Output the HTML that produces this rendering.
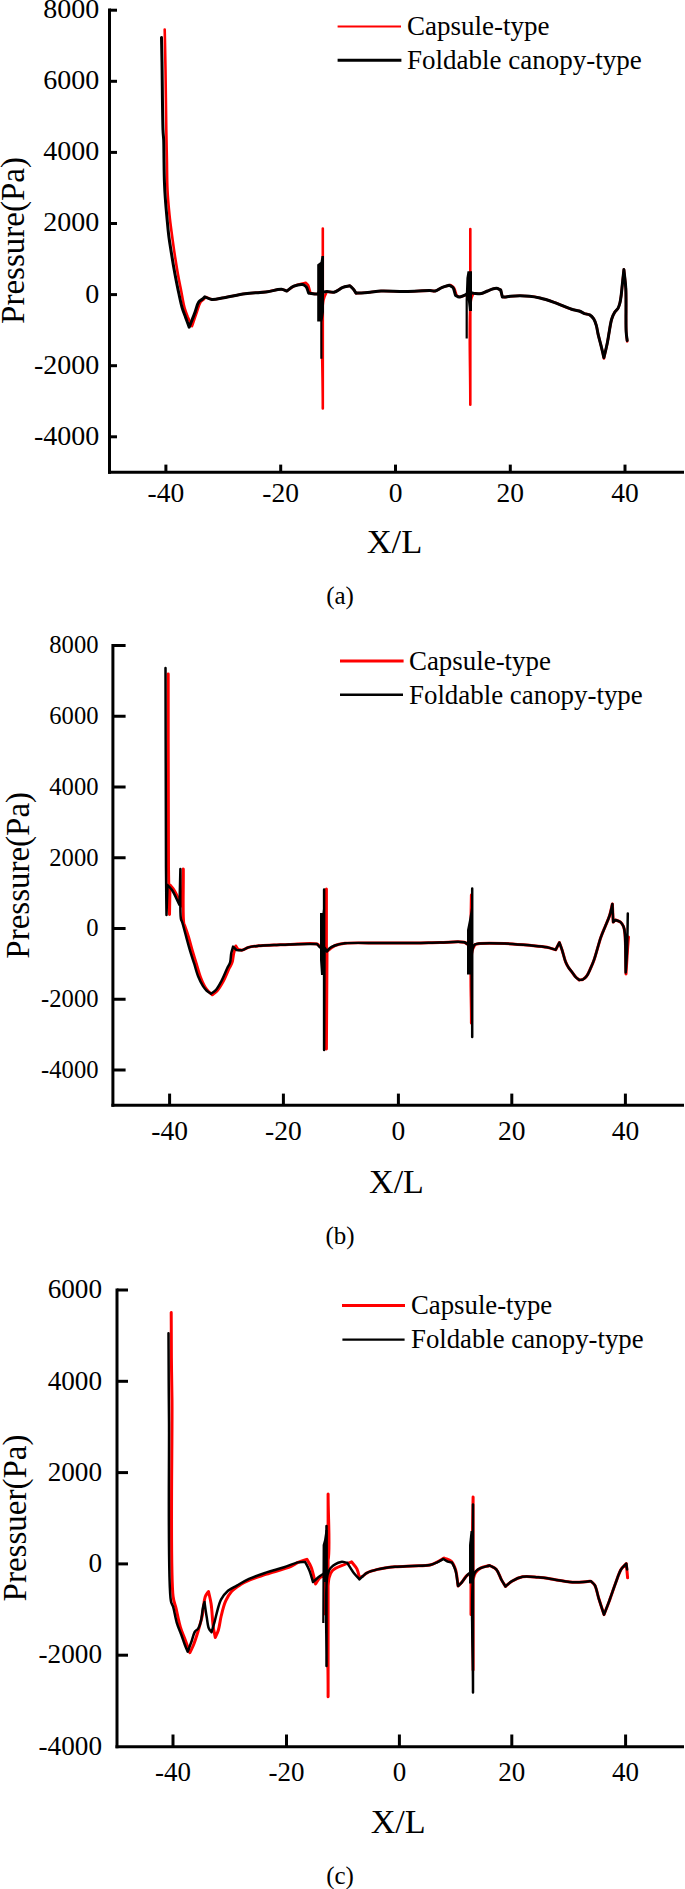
<!DOCTYPE html>
<html><head><meta charset="utf-8"><style>
html,body{margin:0;padding:0;background:#fff;}
body{width:685px;height:1889px;overflow:hidden;}
svg{display:block;font-family:"Liberation Serif", serif;fill:#000;}
</style></head><body>
<svg width="685" height="1889" viewBox="0 0 685 1889">
<line x1="109.5" y1="8.5" x2="109.5" y2="473.8" stroke="#000" stroke-width="3"/>
<line x1="108.0" y1="472.3" x2="684" y2="472.3" stroke="#000" stroke-width="3"/>
<line x1="109.5" y1="10.2" x2="117" y2="10.2" stroke="#000" stroke-width="3"/>
<line x1="109.5" y1="81.3" x2="117" y2="81.3" stroke="#000" stroke-width="3"/>
<line x1="109.5" y1="152.39999999999998" x2="117" y2="152.39999999999998" stroke="#000" stroke-width="3"/>
<line x1="109.5" y1="223.49999999999997" x2="117" y2="223.49999999999997" stroke="#000" stroke-width="3"/>
<line x1="109.5" y1="294.59999999999997" x2="117" y2="294.59999999999997" stroke="#000" stroke-width="3"/>
<line x1="109.5" y1="365.7" x2="117" y2="365.7" stroke="#000" stroke-width="3"/>
<line x1="109.5" y1="436.79999999999995" x2="117" y2="436.79999999999995" stroke="#000" stroke-width="3"/>
<line x1="165.9" y1="464.6" x2="165.9" y2="472.3" stroke="#000" stroke-width="3"/>
<line x1="280.7" y1="464.6" x2="280.7" y2="472.3" stroke="#000" stroke-width="3"/>
<line x1="395.5" y1="464.6" x2="395.5" y2="472.3" stroke="#000" stroke-width="3"/>
<line x1="510.3" y1="464.6" x2="510.3" y2="472.3" stroke="#000" stroke-width="3"/>
<line x1="625.0" y1="464.6" x2="625.0" y2="472.3" stroke="#000" stroke-width="3"/>
<text x="99.3" y="18.1" font-size="28" text-anchor="end" >8000</text>
<text x="99.3" y="89.2" font-size="28" text-anchor="end" >6000</text>
<text x="99.3" y="160.29999999999998" font-size="28" text-anchor="end" >4000</text>
<text x="99.3" y="231.39999999999998" font-size="28" text-anchor="end" >2000</text>
<text x="99.3" y="302.49999999999994" font-size="28" text-anchor="end" >0</text>
<text x="99.3" y="373.59999999999997" font-size="28" text-anchor="end" >-2000</text>
<text x="99.3" y="444.69999999999993" font-size="28" text-anchor="end" >-4000</text>
<text x="165.9" y="502" font-size="27.5" text-anchor="middle" >-40</text>
<text x="280.7" y="502" font-size="27.5" text-anchor="middle" >-20</text>
<text x="395.5" y="502" font-size="27.5" text-anchor="middle" >0</text>
<text x="510.3" y="502" font-size="27.5" text-anchor="middle" >20</text>
<text x="625.0" y="502" font-size="27.5" text-anchor="middle" >40</text>
<text x="394.5" y="552.5" font-size="34.5" text-anchor="middle" >X/L</text>
<text x="340" y="604" font-size="25" text-anchor="middle" >(a)</text>
<text transform="translate(24,240.5) rotate(-90)" font-size="33" text-anchor="middle">Pressure(Pa)</text>
<line x1="337.6" y1="26.4" x2="401" y2="26.4" stroke="#f00" stroke-width="2"/>
<line x1="337.6" y1="60.2" x2="401.4" y2="60.2" stroke="#000" stroke-width="3"/>
<text x="407" y="35" font-size="27" text-anchor="start" >Capsule-type</text>
<text x="407" y="68.6" font-size="27" text-anchor="start" >Foldable canopy-type</text>
<line x1="112.9" y1="644" x2="112.9" y2="1106.7" stroke="#000" stroke-width="3"/>
<line x1="111.4" y1="1105.2" x2="684" y2="1105.2" stroke="#000" stroke-width="3"/>
<line x1="112.9" y1="645.5" x2="125.6" y2="645.5" stroke="#000" stroke-width="3"/>
<line x1="112.9" y1="716.25" x2="125.6" y2="716.25" stroke="#000" stroke-width="3"/>
<line x1="112.9" y1="787.0" x2="125.6" y2="787.0" stroke="#000" stroke-width="3"/>
<line x1="112.9" y1="857.75" x2="125.6" y2="857.75" stroke="#000" stroke-width="3"/>
<line x1="112.9" y1="928.5" x2="125.6" y2="928.5" stroke="#000" stroke-width="3"/>
<line x1="112.9" y1="999.25" x2="125.6" y2="999.25" stroke="#000" stroke-width="3"/>
<line x1="112.9" y1="1070.0" x2="125.6" y2="1070.0" stroke="#000" stroke-width="3"/>
<line x1="169.6" y1="1093.6" x2="169.6" y2="1105.2" stroke="#000" stroke-width="3"/>
<line x1="283.4" y1="1093.6" x2="283.4" y2="1105.2" stroke="#000" stroke-width="3"/>
<line x1="398.4" y1="1093.6" x2="398.4" y2="1105.2" stroke="#000" stroke-width="3"/>
<line x1="511.8" y1="1093.6" x2="511.8" y2="1105.2" stroke="#000" stroke-width="3"/>
<line x1="625.4" y1="1093.6" x2="625.4" y2="1105.2" stroke="#000" stroke-width="3"/>
<text x="98.5" y="653.4" font-size="24.6" text-anchor="end" >8000</text>
<text x="98.5" y="724.15" font-size="24.6" text-anchor="end" >6000</text>
<text x="98.5" y="794.9" font-size="24.6" text-anchor="end" >4000</text>
<text x="98.5" y="865.65" font-size="24.6" text-anchor="end" >2000</text>
<text x="98.5" y="936.4" font-size="24.6" text-anchor="end" >0</text>
<text x="98.5" y="1007.15" font-size="24.6" text-anchor="end" >-2000</text>
<text x="98.5" y="1077.9" font-size="24.6" text-anchor="end" >-4000</text>
<text x="169.6" y="1139.5" font-size="27.5" text-anchor="middle" >-40</text>
<text x="283.4" y="1139.5" font-size="27.5" text-anchor="middle" >-20</text>
<text x="398.4" y="1139.5" font-size="27.5" text-anchor="middle" >0</text>
<text x="511.8" y="1139.5" font-size="27.5" text-anchor="middle" >20</text>
<text x="625.4" y="1139.5" font-size="27.5" text-anchor="middle" >40</text>
<text x="396.5" y="1193" font-size="34" text-anchor="middle" >X/L</text>
<text x="340" y="1244" font-size="25" text-anchor="middle" >(b)</text>
<text transform="translate(29.4,875.3) rotate(-90)" font-size="33" text-anchor="middle">Pressure(Pa)</text>
<line x1="340" y1="661.1" x2="403.6" y2="661.1" stroke="#f00" stroke-width="3"/>
<line x1="340" y1="694.8" x2="403" y2="694.8" stroke="#000" stroke-width="2.4"/>
<text x="409" y="669.6" font-size="26.9" text-anchor="start" >Capsule-type</text>
<text x="409" y="703.6" font-size="26.9" text-anchor="start" >Foldable canopy-type</text>
<line x1="117" y1="1288.5" x2="117" y2="1748.2" stroke="#000" stroke-width="3"/>
<line x1="115.5" y1="1746.7" x2="684" y2="1746.7" stroke="#000" stroke-width="3"/>
<line x1="117" y1="1290.0" x2="128" y2="1290.0" stroke="#000" stroke-width="3"/>
<line x1="117" y1="1381.3" x2="128" y2="1381.3" stroke="#000" stroke-width="3"/>
<line x1="117" y1="1472.6" x2="128" y2="1472.6" stroke="#000" stroke-width="3"/>
<line x1="117" y1="1563.9" x2="128" y2="1563.9" stroke="#000" stroke-width="3"/>
<line x1="117" y1="1655.2" x2="128" y2="1655.2" stroke="#000" stroke-width="3"/>
<line x1="173" y1="1734.5" x2="173" y2="1746.7" stroke="#000" stroke-width="3"/>
<line x1="286.5" y1="1734.5" x2="286.5" y2="1746.7" stroke="#000" stroke-width="3"/>
<line x1="399.4" y1="1734.5" x2="399.4" y2="1746.7" stroke="#000" stroke-width="3"/>
<line x1="511.8" y1="1734.5" x2="511.8" y2="1746.7" stroke="#000" stroke-width="3"/>
<line x1="625.6" y1="1734.5" x2="625.6" y2="1746.7" stroke="#000" stroke-width="3"/>
<text x="102" y="1298.2" font-size="27.2" text-anchor="end" >6000</text>
<text x="102" y="1389.5" font-size="27.2" text-anchor="end" >4000</text>
<text x="102" y="1480.8" font-size="27.2" text-anchor="end" >2000</text>
<text x="102" y="1572.1000000000001" font-size="27.2" text-anchor="end" >0</text>
<text x="102" y="1663.4" font-size="27.2" text-anchor="end" >-2000</text>
<text x="102" y="1754.7" font-size="27.2" text-anchor="end" >-4000</text>
<text x="173" y="1780.5" font-size="27" text-anchor="middle" >-40</text>
<text x="286.5" y="1780.5" font-size="27" text-anchor="middle" >-20</text>
<text x="399.4" y="1780.5" font-size="27" text-anchor="middle" >0</text>
<text x="511.8" y="1780.5" font-size="27" text-anchor="middle" >20</text>
<text x="625.6" y="1780.5" font-size="27" text-anchor="middle" >40</text>
<text x="398.2" y="1833" font-size="34.2" text-anchor="middle" >X/L</text>
<text x="340" y="1884" font-size="25" text-anchor="middle" >(c)</text>
<text transform="translate(25.6,1518) rotate(-90)" font-size="33" text-anchor="middle">Pressuer(Pa)</text>
<line x1="342" y1="1305.4" x2="405" y2="1305.4" stroke="#f00" stroke-width="3"/>
<line x1="342.4" y1="1339.6" x2="404.6" y2="1339.6" stroke="#000" stroke-width="2.4"/>
<text x="411" y="1314" font-size="26.75" text-anchor="start" >Capsule-type</text>
<text x="411" y="1348" font-size="26.75" text-anchor="start" >Foldable canopy-type</text>
<path d="M164.7,29.5 C165.0,43.0 165.3,55.2 165.5,70.0 C165.8,88.0 166.0,113.4 166.3,130.0 C166.5,141.7 166.7,150.0 166.9,160.0 C167.1,170.0 167.0,180.5 167.5,190.0 C167.9,198.7 168.7,207.0 169.5,215.0 C170.2,222.3 171.2,229.2 172.1,236.0 C173.0,242.5 173.8,248.7 174.8,255.0 C175.8,261.3 176.8,267.9 177.9,274.0 C178.9,279.8 180.1,285.4 181.2,291.0 C182.3,296.6 183.2,302.9 184.5,307.6 C185.5,311.2 186.6,313.9 187.8,317.0 C189.1,320.1 190.6,323.1 192.0,326.2 C193.5,321.8 195.0,317.2 196.5,313.0 C197.9,309.1 199.0,304.3 200.7,301.9 C201.7,300.4 203.0,299.9 204.0,299.0 C204.8,298.3 205.3,297.7 206.0,297.0 C208.0,297.8 209.6,299.1 212.0,299.4 C215.3,299.8 219.5,298.4 224.0,297.7 C230.0,296.7 238.6,294.7 245.0,293.8 C250.4,293.0 255.9,292.8 260.0,292.4 C262.9,292.1 264.6,292.2 267.5,291.8 C271.5,291.3 278.0,288.9 281.5,289.2 C283.7,289.4 285.0,290.4 286.8,291.0 C289.1,289.4 291.0,287.5 293.8,286.2 C297.1,284.6 301.7,283.9 305.7,282.7 C306.5,283.5 307.3,283.9 308.0,285.0 C309.1,286.8 309.7,290.5 310.5,293.2 C312.3,293.5 314.3,293.9 316.0,294.0 C317.4,294.1 318.8,294.0 320.0,294.0 C321.0,294.0 321.9,294.0 322.8,294.0 C322.8,272.2 322.8,250.3 322.8,228.5 C322.8,288.5 322.8,348.5 322.8,408.5 C323.0,372.3 320.3,315.7 323.5,300.0 C324.4,295.4 325.8,294.3 327.0,291.5 C329.3,291.7 331.6,292.7 334.0,292.2 C336.9,291.6 340.0,288.5 342.9,287.4 C345.3,286.5 347.6,286.3 349.9,285.7 C351.1,286.9 352.4,287.9 353.4,289.2 C354.4,290.4 355.1,291.9 356.0,293.2 C360.7,292.9 365.6,292.6 370.0,292.2 C373.9,291.8 376.6,291.2 381.0,291.0 C387.5,290.7 397.3,291.6 405.5,291.5 C413.7,291.4 424.8,290.5 430.0,290.6 C432.4,290.6 433.5,291.4 435.3,291.0 C437.5,290.5 439.8,288.4 442.3,287.4 C444.9,286.4 447.8,285.8 450.5,285.0 C451.7,286.0 453.1,286.6 454.0,288.0 C455.2,289.8 455.7,292.9 456.5,295.3 C457.7,295.9 458.7,296.9 460.0,297.0 C461.5,297.1 463.3,295.6 465.0,295.3 C466.7,295.0 468.5,295.1 470.3,295.0 C470.3,273.0 470.3,251.0 470.3,229.0 C470.3,287.6 470.3,346.2 470.3,404.8 C470.5,369.9 468.4,314.1 471.0,300.0 C471.7,296.3 472.7,295.5 473.5,293.2 C476.1,293.3 479.0,294.0 481.4,293.6 C483.6,293.2 485.3,291.8 487.5,291.0 C490.1,290.0 493.9,288.2 496.3,288.3 C498.0,288.4 499.2,289.4 500.7,290.0 C501.3,292.3 501.8,294.7 502.4,297.0 C503.3,297.0 504.0,297.2 505.0,297.1 C506.5,297.0 508.0,296.4 510.3,296.2 C514.7,295.8 524.2,295.7 529.6,296.2 C533.6,296.5 536.3,297.1 540.0,298.0 C544.4,299.0 549.1,300.6 554.0,302.3 C559.6,304.3 566.9,307.8 571.6,309.3 C574.6,310.2 576.9,310.2 579.2,311.0 C581.2,311.7 582.7,312.9 584.5,313.6 C586.2,314.2 588.2,314.1 589.7,314.9 C591.3,315.8 592.6,317.2 593.7,318.8 C594.9,320.6 595.6,323.0 596.3,325.4 C597.1,328.2 597.5,331.4 598.2,334.6 C599.0,338.0 600.1,341.8 600.9,345.1 C601.6,347.9 602.3,350.6 602.8,353.0 C603.2,355.0 603.5,356.7 603.9,358.5 C605.1,353.2 606.4,347.4 607.4,342.5 C608.2,338.3 608.7,334.6 609.4,330.7 C610.1,326.7 610.7,322.1 611.8,318.8 C612.6,316.3 613.6,314.1 614.7,312.3 C615.7,310.7 617.1,309.8 618.0,308.3 C618.9,306.7 619.4,305.0 619.9,303.0 C620.5,300.7 620.8,298.1 621.2,295.2 C621.7,291.4 622.1,286.3 622.6,282.0 C623.0,277.8 623.5,273.7 623.9,269.6 C624.5,275.9 625.4,281.0 625.8,288.6 C626.4,300.1 625.7,322.8 626.2,332.0 C626.4,336.3 626.9,338.3 627.2,341.5" fill="none" stroke="#f00" stroke-width="2.6" stroke-linejoin="round" stroke-linecap="round"/>
<path d="M161.5,37.5 C161.7,45.7 161.8,51.8 162.0,62.0 C162.3,79.0 162.5,117.4 163.0,130.0 C163.2,134.8 163.5,136.1 163.7,140.0 C163.9,145.5 163.9,153.0 164.0,160.0 C164.1,167.6 164.2,176.9 164.5,183.8 C164.7,189.1 164.9,192.9 165.3,198.0 C165.7,203.9 166.3,210.7 166.9,217.0 C167.5,223.3 168.0,229.7 168.8,236.0 C169.6,242.3 170.7,248.6 171.7,255.0 C172.7,261.4 173.8,267.9 175.0,274.3 C176.2,280.7 177.5,287.4 178.8,293.3 C179.9,298.4 180.9,303.4 182.1,307.6 C183.1,311.1 184.3,313.9 185.5,317.1 C186.7,320.4 188.0,323.8 189.2,327.2 C191.1,322.3 193.3,316.9 195.0,312.4 C196.4,308.6 197.1,304.2 198.8,301.9 C199.9,300.4 201.5,299.9 202.6,299.0 C203.5,298.2 204.1,297.5 204.8,296.8 C207.1,297.7 209.1,299.1 211.8,299.4 C215.3,299.8 219.4,298.4 224.0,297.7 C230.1,296.7 238.6,294.7 245.0,293.8 C250.4,293.0 255.9,292.8 260.0,292.4 C262.9,292.1 264.6,292.2 267.5,291.8 C271.5,291.3 278.0,288.9 281.5,289.2 C283.7,289.4 285.0,290.4 286.8,291.0 C289.1,289.4 291.2,287.3 293.8,286.2 C296.5,285.1 300.4,284.1 302.6,284.5 C304.1,284.8 305.1,285.5 306.0,286.6 C307.3,288.1 307.8,291.0 308.7,293.2 C310.7,293.5 313.1,293.9 314.8,294.0 C316.0,294.1 316.9,294.0 318.0,294.0 C318.7,292.7 319.3,291.3 320.0,290.0 C321.0,290.7 321.9,291.7 323.0,292.0 C324.2,292.3 325.5,291.5 327.0,291.5 C329.0,291.5 331.6,292.7 334.0,292.2 C336.9,291.6 340.0,288.5 342.9,287.4 C345.3,286.5 347.6,286.3 349.9,285.7 C351.1,286.9 352.4,287.9 353.4,289.2 C354.4,290.4 355.1,291.9 356.0,293.2 C360.7,292.9 365.6,292.6 370.0,292.2 C373.9,291.8 376.6,291.2 381.0,291.0 C387.5,290.7 397.3,291.6 405.5,291.5 C413.7,291.4 424.8,290.5 430.0,290.6 C432.4,290.6 433.5,291.4 435.3,291.0 C437.5,290.5 439.9,288.4 442.3,287.4 C444.6,286.5 447.0,285.9 449.3,285.2 C450.5,285.9 451.9,286.2 452.9,287.4 C454.2,289.1 454.6,292.7 455.5,295.3 C456.7,295.9 457.7,296.9 459.0,297.0 C460.5,297.1 462.7,295.9 464.2,295.3 C465.3,294.9 466.0,294.4 467.0,294.0 C468.2,293.6 469.8,293.1 471.0,293.0 C471.9,292.9 472.4,293.1 473.5,293.2 C475.4,293.3 479.0,294.0 481.4,293.6 C483.6,293.2 485.3,291.8 487.5,291.0 C490.1,290.0 493.9,288.2 496.3,288.3 C498.0,288.4 499.2,289.4 500.7,290.0 C501.3,292.3 501.8,294.7 502.4,297.0 C503.3,297.0 504.0,297.2 505.0,297.1 C506.5,297.0 508.0,296.4 510.3,296.2 C514.7,295.8 524.2,295.7 529.6,296.2 C533.6,296.5 536.3,297.1 540.0,298.0 C544.4,299.0 549.1,300.6 554.0,302.3 C559.6,304.3 566.9,307.8 571.6,309.3 C574.6,310.2 576.9,310.2 579.2,311.0 C581.2,311.7 582.7,312.9 584.5,313.6 C586.2,314.2 588.2,314.1 589.7,314.9 C591.3,315.8 592.6,317.2 593.7,318.8 C594.9,320.6 595.6,323.0 596.3,325.4 C597.1,328.2 597.5,331.4 598.2,334.6 C599.0,338.0 600.1,341.8 600.9,345.1 C601.6,347.9 602.3,350.7 602.8,353.0 C603.2,354.7 603.5,356.1 603.9,357.6 C605.1,352.6 606.5,347.2 607.4,342.5 C608.2,338.3 608.7,334.6 609.4,330.7 C610.1,326.7 610.7,322.1 611.8,318.8 C612.6,316.3 613.6,314.1 614.7,312.3 C615.7,310.7 617.1,309.8 618.0,308.3 C618.9,306.7 619.4,305.0 619.9,303.0 C620.5,300.7 620.8,298.1 621.2,295.2 C621.7,291.4 622.1,286.3 622.6,282.0 C623.0,277.8 623.5,273.7 623.9,269.6 C624.5,275.9 625.4,281.0 625.8,288.6 C626.4,300.1 625.6,323.1 626.2,332.0 C626.4,335.9 626.9,337.7 627.2,340.5" fill="none" stroke="#000" stroke-width="3" stroke-linejoin="round" stroke-linecap="round"/>
<path d="M168.2,674.0 C168.3,738.7 168.0,825.5 168.5,868.0 C168.7,888.8 169.2,899.0 169.5,914.5 C169.7,904.7 169.8,894.8 170.0,885.0 C171.3,886.7 172.6,887.8 174.0,890.0 C176.4,893.7 179.3,900.7 182.0,906.0 C182.4,893.7 182.9,881.3 183.3,869.0 C183.5,887.2 182.5,917.1 183.8,923.5 C184.1,924.9 184.4,924.9 184.8,926.0 C185.7,928.4 187.3,933.1 188.5,937.0 C189.8,941.4 191.1,946.4 192.4,951.0 C193.7,955.4 195.1,959.7 196.4,964.0 C197.7,968.3 198.9,973.0 200.4,977.0 C201.8,980.6 203.4,984.4 205.0,987.0 C206.1,988.9 207.2,990.2 208.5,991.5 C209.7,992.7 211.0,993.7 212.3,994.8 C213.9,993.5 215.4,992.7 217.0,991.0 C219.2,988.6 221.4,984.7 223.4,981.1 C225.5,977.2 227.6,971.6 229.2,968.2 C230.3,965.9 231.4,964.6 232.1,962.4 C233.0,959.7 233.1,955.9 233.8,953.0 C234.4,950.5 235.1,948.3 235.8,946.0 C236.5,947.2 237.3,948.3 238.0,949.5 C239.5,949.7 240.9,950.3 242.4,950.1 C244.3,949.8 246.1,948.1 248.4,947.4 C251.3,946.5 254.9,946.2 258.7,945.8 C263.3,945.3 268.9,945.3 274.0,945.1 C279.0,944.9 283.2,944.6 289.0,944.4 C296.9,944.2 312.5,942.4 317.0,944.0 C318.7,944.6 318.9,945.9 320.0,946.5 C321.0,947.0 322.0,947.3 323.0,947.5 C324.1,947.7 325.3,947.5 326.4,947.5 C326.4,928.0 326.4,908.5 326.4,889.0 C326.4,942.3 326.4,995.7 326.4,1049.0 C326.6,1016.5 326.8,984.0 327.0,951.5 C327.8,950.8 328.3,950.3 329.3,949.5 C330.8,948.4 332.7,946.5 335.0,945.5 C337.8,944.3 340.6,943.8 345.0,943.3 C353.1,942.4 368.3,943.1 380.0,943.1 C391.7,943.0 404.5,943.1 415.2,943.0 C424.2,942.9 431.8,942.6 440.0,942.5 C448.1,942.4 459.7,941.1 464.2,942.3 C466.1,942.8 466.8,943.9 468.0,944.5 C468.9,944.9 469.7,945.2 470.5,945.5 C470.8,928.7 471.1,911.8 471.4,895.0 C471.4,937.7 471.4,980.3 471.4,1023.0 C471.6,999.2 469.6,962.8 472.0,951.5 C472.8,947.8 474.0,946.8 475.0,944.5 C476.7,944.2 477.7,943.7 480.0,943.5 C485.1,943.0 496.5,943.2 504.8,943.5 C513.1,943.8 522.1,944.6 529.6,945.3 C535.9,945.9 542.2,946.3 547.0,947.3 C550.4,948.0 552.8,949.0 555.7,949.8 C556.9,947.4 558.2,944.9 559.4,942.5 C560.2,944.8 561.0,946.8 561.9,949.5 C563.1,953.0 564.3,958.6 565.6,961.9 C566.5,964.2 567.4,965.8 568.5,967.5 C569.5,969.1 570.7,970.3 571.8,971.8 C573.0,973.4 574.2,975.4 575.5,976.8 C576.7,978.1 578.0,978.9 579.3,980.0 C580.5,979.8 581.8,979.9 583.0,979.3 C584.3,978.6 585.6,977.5 586.7,976.0 C588.2,974.1 589.3,971.1 590.5,968.5 C591.8,965.6 592.9,963.1 594.2,959.4 C596.2,953.7 598.7,943.4 600.8,937.4 C602.3,933.1 603.7,930.1 605.2,926.5 C606.7,922.8 608.4,919.3 609.6,915.5 C610.8,911.7 611.5,907.8 612.4,903.9 C612.7,910.0 612.9,916.0 613.2,922.1 C613.9,921.4 614.7,920.6 615.4,919.9 C617.1,920.6 619.1,921.0 620.5,922.1 C621.8,923.2 622.8,924.8 623.5,926.5 C624.4,928.6 624.5,930.4 624.9,933.8 C625.8,941.8 625.6,960.6 626.0,974.0 C626.5,966.0 627.0,956.8 627.5,950.0 C627.8,945.0 628.2,941.3 628.5,937.0" fill="none" stroke="#f00" stroke-width="3" stroke-linejoin="round" stroke-linecap="round"/>
<path d="M165.5,668.0 C165.7,734.7 165.7,824.5 166.0,868.0 C166.1,889.1 166.3,899.3 166.5,915.0 C166.8,905.0 167.2,895.0 167.5,885.0 C169.0,886.7 170.5,887.8 172.0,890.0 C174.4,893.5 177.0,900.0 179.5,905.0 C179.8,893.0 180.1,881.0 180.4,869.0 C180.6,885.6 179.7,912.0 180.9,918.7 C181.2,920.4 181.6,920.4 182.1,921.9 C183.1,925.0 184.8,931.6 186.1,936.4 C187.4,941.2 188.7,946.1 190.1,950.8 C191.4,955.2 192.8,959.4 194.2,963.7 C195.5,968.0 196.6,972.6 198.2,976.5 C199.6,980.0 201.4,983.6 203.0,986.1 C204.2,987.9 205.2,989.2 206.5,990.5 C207.8,991.8 209.4,992.7 210.9,993.8 C212.4,992.7 214.0,992.0 215.5,990.4 C217.6,988.2 219.6,984.5 221.4,981.1 C223.5,977.2 225.6,971.6 227.2,968.2 C228.3,965.9 229.4,964.6 230.1,962.4 C230.9,959.7 230.7,955.8 231.3,953.0 C231.8,950.6 232.5,948.7 233.1,946.6 C234.3,947.8 235.4,948.9 236.6,950.1 C238.5,950.1 240.5,950.5 242.4,950.1 C244.4,949.7 246.1,948.1 248.4,947.4 C251.3,946.5 254.9,946.2 258.7,945.8 C263.3,945.3 268.9,945.3 274.0,945.1 C279.0,944.9 283.2,944.6 289.0,944.4 C296.9,944.2 307.7,944.1 317.0,944.0 C318.0,945.2 319.0,946.3 320.0,947.5 C320.8,947.5 321.8,947.5 322.5,947.5 C323.1,947.5 323.6,947.5 324.1,947.5 C324.1,928.2 324.1,908.9 324.1,889.6 C324.1,943.1 324.1,996.5 324.1,1050.0 C324.2,1015.8 324.4,981.7 324.5,947.5 C325.3,948.8 326.2,950.2 327.0,951.5 C327.8,950.5 328.2,949.4 329.3,948.5 C330.7,947.3 332.8,946.3 335.0,945.5 C337.8,944.5 340.6,943.8 345.0,943.3 C353.1,942.4 368.3,943.1 380.0,943.1 C391.7,943.0 404.5,943.1 415.2,943.0 C424.2,942.9 431.8,942.6 440.0,942.5 C448.1,942.4 459.7,941.1 464.2,942.3 C466.1,942.8 466.8,943.9 468.0,944.5 C468.9,944.9 469.7,945.4 470.5,945.5 C471.1,945.6 471.6,945.5 472.2,945.5 C472.2,926.5 472.2,907.6 472.2,888.6 C472.2,938.1 472.2,987.5 472.2,1037.0 C472.5,1007.2 470.2,956.6 473.0,947.5 C473.6,945.7 474.0,945.2 475.0,944.5 C476.2,943.7 477.7,943.7 480.0,943.5 C485.1,943.0 496.5,943.2 504.8,943.5 C513.1,943.8 522.1,944.6 529.6,945.3 C535.9,945.9 542.2,946.3 547.0,947.3 C550.4,948.0 552.8,949.0 555.7,949.8 C556.9,947.4 558.2,944.9 559.4,942.5 C560.2,944.8 561.0,946.8 561.9,949.5 C563.1,953.0 564.3,958.6 565.6,961.9 C566.5,964.2 567.4,965.8 568.5,967.5 C569.5,969.1 570.7,970.3 571.8,971.8 C573.0,973.4 574.2,975.4 575.5,976.8 C576.7,978.1 578.0,978.9 579.3,980.0 C580.5,979.8 581.8,979.9 583.0,979.3 C584.3,978.6 585.6,977.5 586.7,976.0 C588.2,974.1 589.3,971.1 590.5,968.5 C591.8,965.6 592.9,963.1 594.2,959.4 C596.2,953.7 598.7,943.4 600.8,937.4 C602.3,933.1 603.7,930.1 605.2,926.5 C606.7,922.8 608.4,919.3 609.6,915.5 C610.8,911.7 611.5,907.8 612.4,903.9 C612.7,910.0 612.9,916.0 613.2,922.1 C613.9,921.4 614.7,920.6 615.4,919.9 C617.1,920.6 619.1,921.0 620.5,922.1 C621.8,923.2 622.8,924.8 623.5,926.5 C624.4,928.6 624.5,930.4 624.9,933.8 C625.7,941.6 625.4,959.6 625.7,972.5 C626.2,964.5 626.8,957.2 627.1,948.4 C627.5,937.8 627.6,925.1 627.8,913.4" fill="none" stroke="#000" stroke-width="2.5" stroke-linejoin="round" stroke-linecap="round"/>
<path d="M171.2,1312.5 C171.3,1327.7 171.3,1343.1 171.4,1358.0 C171.5,1372.3 171.8,1380.9 172.0,1400.0 C172.4,1441.4 169.9,1570.9 173.1,1596.5 C173.9,1602.8 175.0,1603.8 176.0,1608.2 C177.3,1613.8 178.7,1621.7 180.4,1627.2 C181.7,1631.6 183.3,1634.8 184.8,1638.8 C186.4,1643.2 188.2,1648.1 189.9,1652.7 C191.1,1650.0 192.4,1647.7 193.6,1644.7 C195.1,1640.9 196.6,1636.1 198.0,1631.5 C199.5,1626.4 201.1,1621.1 202.3,1615.5 C203.6,1609.5 203.7,1600.7 205.3,1596.5 C206.2,1594.2 207.4,1593.2 208.5,1591.5 C209.4,1595.6 210.4,1599.0 211.1,1603.8 C212.1,1610.3 212.4,1621.0 213.3,1627.2 C213.9,1631.3 214.6,1634.1 215.3,1637.5 C216.3,1635.0 217.5,1633.0 218.4,1630.0 C219.6,1626.0 220.1,1620.3 221.3,1615.5 C222.5,1610.6 223.8,1605.1 225.7,1600.9 C227.3,1597.3 229.1,1594.1 231.5,1591.4 C233.9,1588.7 237.2,1586.7 240.3,1584.8 C243.5,1582.8 246.7,1581.3 250.5,1579.7 C255.2,1577.7 260.7,1576.2 266.6,1574.2 C273.9,1571.8 285.5,1568.7 291.1,1566.3 C294.2,1564.9 295.6,1563.5 298.1,1562.4 C300.8,1561.2 304.0,1560.3 306.9,1559.3 C308.3,1561.9 309.9,1564.0 311.2,1567.2 C313.0,1571.7 314.1,1578.4 315.6,1584.0 C317.1,1581.9 318.4,1579.0 320.0,1577.7 C321.2,1576.7 323.0,1576.2 324.0,1576.0 C324.5,1575.9 324.9,1576.0 325.3,1576.0 C325.3,1588.7 325.3,1601.3 325.3,1614.0 C325.4,1597.7 323.7,1572.8 325.6,1565.0 C326.2,1562.4 327.5,1562.7 328.1,1560.0 C330.3,1550.6 328.1,1516.0 328.1,1494.0 C328.1,1561.6 328.1,1629.1 328.1,1696.7 C328.4,1657.1 325.6,1593.6 329.0,1578.0 C329.9,1573.9 330.3,1572.8 332.3,1570.7 C334.9,1568.0 341.0,1566.1 344.6,1564.5 C347.2,1563.4 349.3,1562.8 351.6,1561.9 C353.4,1564.2 355.6,1566.3 356.9,1568.9 C358.2,1571.6 358.6,1574.8 359.5,1577.7 C360.7,1577.1 361.8,1576.7 363.0,1576.0 C364.3,1575.2 365.2,1573.8 367.0,1572.9 C369.6,1571.5 373.5,1570.4 377.5,1569.4 C382.5,1568.2 389.1,1567.4 395.0,1566.8 C400.8,1566.2 406.8,1566.2 412.6,1565.9 C418.4,1565.6 425.5,1566.0 430.0,1565.0 C433.0,1564.3 434.8,1563.2 437.1,1562.0 C439.5,1560.8 441.8,1559.3 444.1,1558.0 C446.4,1559.1 449.2,1559.5 451.1,1561.2 C453.1,1563.1 454.4,1566.2 455.5,1569.5 C457.0,1574.0 457.2,1580.5 458.1,1586.0 C459.3,1584.9 460.4,1584.0 461.6,1582.6 C463.3,1580.7 465.2,1576.9 466.9,1575.5 C468.0,1574.6 469.2,1574.2 470.0,1574.0 C470.4,1573.9 470.7,1574.0 471.0,1574.0 C471.0,1587.5 471.0,1601.0 471.0,1614.5 C471.7,1575.3 472.4,1536.2 473.1,1497.0 C473.1,1554.7 473.1,1612.3 473.1,1670.0 C473.2,1639.3 471.0,1590.4 473.5,1578.0 C474.2,1574.7 474.8,1573.7 476.0,1572.0 C477.2,1570.4 478.6,1569.1 480.5,1568.1 C482.9,1566.8 486.6,1566.4 489.7,1565.5 C491.9,1566.8 494.5,1567.4 496.3,1569.4 C498.6,1571.9 499.8,1576.8 501.5,1579.9 C502.9,1582.4 504.2,1584.3 505.5,1586.5 C507.7,1584.7 509.4,1582.7 512.0,1581.2 C515.0,1579.4 518.6,1577.5 522.5,1576.8 C527.1,1575.9 533.0,1576.9 538.3,1577.3 C543.6,1577.7 548.8,1578.6 554.1,1579.4 C559.3,1580.2 564.8,1581.6 569.8,1582.0 C574.4,1582.4 579.2,1582.2 583.0,1582.0 C586.0,1581.8 588.3,1581.5 590.9,1581.2 C592.2,1582.5 593.7,1583.3 594.8,1585.2 C596.5,1588.2 597.3,1593.7 598.7,1598.3 C600.3,1603.4 602.2,1609.2 604.0,1614.6 C605.8,1610.0 607.5,1605.8 609.3,1600.9 C611.4,1595.2 613.7,1588.1 615.8,1582.5 C617.6,1577.7 619.0,1572.8 621.1,1569.4 C622.7,1566.9 624.6,1565.5 626.3,1563.6 C626.7,1568.3 627.2,1573.1 627.6,1577.8" fill="none" stroke="#f00" stroke-width="3" stroke-linejoin="round" stroke-linecap="round"/>
<path d="M168.5,1333.2 C168.6,1348.8 168.6,1364.8 168.7,1380.0 C168.8,1394.4 168.8,1403.1 169.0,1422.0 C169.3,1460.9 167.5,1582.8 170.9,1600.9 C171.5,1604.3 172.4,1604.3 173.1,1606.7 C174.3,1610.7 175.3,1617.9 176.8,1622.8 C178.1,1627.1 179.8,1630.7 181.2,1634.5 C182.5,1638.0 183.6,1641.6 184.8,1644.7 C185.8,1647.3 186.7,1649.4 187.7,1651.7 C188.9,1648.4 190.2,1645.1 191.4,1641.8 C192.6,1638.4 193.5,1633.8 195.0,1631.5 C195.9,1630.1 197.3,1629.9 198.2,1628.6 C199.4,1626.8 200.2,1624.2 200.9,1621.3 C201.9,1617.3 202.3,1610.2 203.1,1606.7 C203.6,1604.7 204.0,1603.6 204.5,1602.0 C205.2,1607.0 205.9,1612.3 206.7,1617.0 C207.4,1621.1 207.7,1625.9 208.9,1628.6 C209.6,1630.3 210.7,1631.0 211.6,1632.2 C212.6,1628.6 213.8,1624.6 214.7,1621.3 C215.4,1618.5 215.8,1616.5 216.6,1613.6 C217.7,1609.6 218.9,1603.6 221.0,1599.6 C222.8,1596.1 225.3,1593.2 228.0,1590.8 C230.6,1588.5 233.6,1587.4 236.8,1585.6 C240.5,1583.5 244.5,1581.0 249.0,1578.9 C254.3,1576.5 260.7,1574.4 266.6,1572.4 C272.4,1570.5 278.6,1569.0 284.1,1567.2 C289.0,1565.6 294.2,1563.2 298.1,1562.4 C300.8,1561.9 302.8,1562.1 305.1,1561.9 C306.6,1564.8 308.2,1567.5 309.5,1570.7 C310.9,1574.2 311.8,1578.2 313.0,1582.0 C315.3,1580.0 318.1,1577.4 320.0,1576.0 C321.2,1575.1 321.9,1574.6 323.0,1574.0 C324.1,1573.3 325.3,1572.7 326.5,1572.0 C326.5,1556.7 326.5,1541.3 326.5,1526.0 C326.5,1572.7 326.5,1619.3 326.5,1666.0 C326.8,1635.7 324.7,1588.1 327.5,1575.0 C328.3,1571.2 328.8,1570.0 330.6,1568.0 C332.9,1565.5 338.0,1562.5 341.1,1561.9 C343.3,1561.5 345.2,1562.5 347.2,1562.8 C349.3,1566.0 351.2,1569.5 353.4,1572.4 C355.4,1575.0 357.5,1577.1 359.5,1579.4 C360.7,1578.3 361.8,1577.1 363.0,1576.0 C364.3,1574.9 365.2,1573.8 367.0,1572.9 C369.6,1571.5 373.5,1570.4 377.5,1569.4 C382.5,1568.2 389.1,1567.4 395.0,1566.8 C400.8,1566.2 406.8,1566.2 412.6,1565.9 C418.4,1565.6 425.5,1565.9 430.0,1565.0 C432.9,1564.4 434.9,1563.4 437.1,1562.4 C439.3,1561.4 441.2,1560.1 443.2,1558.9 C444.7,1559.8 446.1,1560.9 447.6,1561.5 C449.0,1562.0 450.5,1562.1 452.0,1562.4 C453.2,1565.0 454.6,1567.1 455.5,1570.3 C456.8,1574.6 457.2,1580.8 458.1,1586.0 C459.3,1584.9 460.4,1584.0 461.6,1582.6 C463.3,1580.7 465.3,1577.2 466.9,1575.5 C468.0,1574.4 468.9,1573.4 470.0,1573.0 C471.0,1572.7 472.0,1573.0 473.0,1573.0 C473.0,1550.1 473.0,1527.3 473.0,1504.4 C473.0,1567.1 473.0,1629.8 473.0,1692.5 C473.2,1653.7 470.3,1589.2 473.5,1576.0 C474.2,1573.1 474.8,1572.3 476.0,1571.0 C477.2,1569.7 478.7,1568.9 480.5,1568.1 C483.0,1567.0 486.6,1566.4 489.7,1565.5 C491.9,1566.8 494.5,1567.4 496.3,1569.4 C498.6,1571.9 499.8,1576.8 501.5,1579.9 C502.9,1582.4 504.2,1584.3 505.5,1586.5 C507.7,1584.7 509.4,1582.7 512.0,1581.2 C515.0,1579.4 518.6,1577.5 522.5,1576.8 C527.1,1575.9 533.0,1576.9 538.3,1577.3 C543.6,1577.7 548.8,1578.6 554.1,1579.4 C559.3,1580.2 564.8,1581.6 569.8,1582.0 C574.4,1582.4 579.2,1582.2 583.0,1582.0 C586.0,1581.8 588.3,1581.5 590.9,1581.2 C592.2,1582.5 593.7,1583.3 594.8,1585.2 C596.5,1588.2 597.3,1593.7 598.7,1598.3 C600.3,1603.4 602.2,1609.2 604.0,1614.6 C605.8,1610.0 607.5,1605.8 609.3,1600.9 C611.4,1595.2 613.7,1588.1 615.8,1582.5 C617.6,1577.7 619.0,1572.8 621.1,1569.4 C622.7,1566.9 624.6,1565.5 626.3,1563.6 C626.6,1565.5 626.8,1567.5 627.1,1569.4" fill="none" stroke="#000" stroke-width="2.5" stroke-linejoin="round" stroke-linecap="round"/>
<polygon points="317.2,264.5 320.5,262.0 321.5,256.0 324.0,256.0 324.0,312.0 322.4,322.0 322.4,358.7 320.3,358.7 320.3,321.6 317.2,321.6" fill="#000"/>
<polygon points="466.4,278.0 467.5,271.3 472.0,271.3 472.0,311.0 469.0,311.0 467.8,300.0 467.8,338.6 465.6,338.6 465.6,300.0" fill="#000"/>
<polygon points="320.0,913.0 322.5,913.0 323.5,905.0 325.0,905.0 325.0,975.0 321.0,975.0 320.0,960.0" fill="#000"/>
<polygon points="467.0,930.0 469.0,920.0 471.5,905.0 473.0,905.0 473.0,974.6 467.0,974.6" fill="#000"/>
<polygon points="322.6,1545.0 324.0,1540.0 325.5,1530.0 327.5,1530.0 327.5,1582.0 324.4,1582.0 324.4,1623.0 322.2,1623.0" fill="#000"/>
<polygon points="469.0,1545.0 470.5,1531.0 473.5,1531.0 473.5,1583.5 469.0,1583.5" fill="#000"/>
</svg>
</body></html>
